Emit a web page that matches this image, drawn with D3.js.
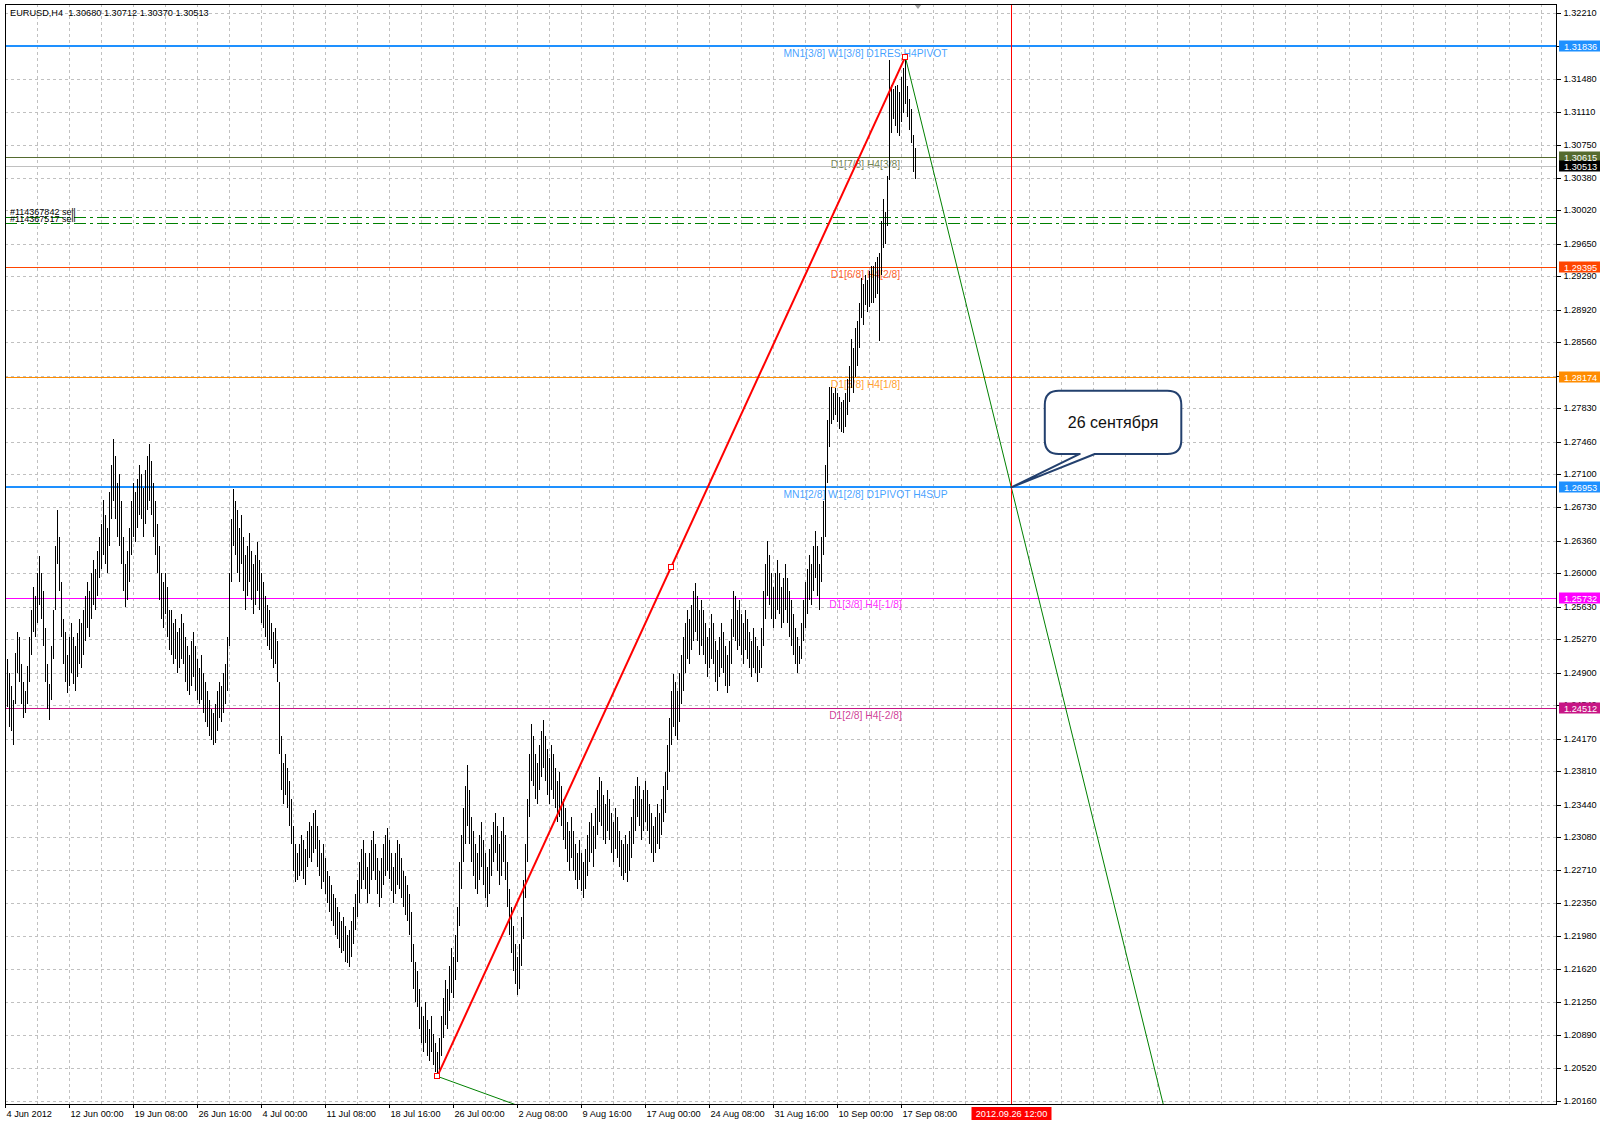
<!DOCTYPE html>
<html><head><meta charset="utf-8">
<script src="https://cdn.jsdelivr.net/npm/d3@7"></script>
<style>
body{margin:0;background:#fff;}
svg{display:block;}
text{font-family:"Liberation Sans",Arial,sans-serif;}
</style>
</head><body>
<svg id="c" width="1600" height="1124"></svg>
<script>
// ---------------- DATA ----------------
const headerText = "EURUSD,H4  1.30680 1.30712 1.30370 1.30513";

const barHigh = [
1.2520,1.2505,1.2490,1.2475,1.2460,1.2512,1.2535,1.2530,1.2500,1.2480,
1.2470,1.2498,1.2530,1.2560,1.2585,1.2575,1.2600,1.2619,1.2600,1.2580,
1.2540,1.2500,1.2478,1.2520,1.2560,1.2630,1.2670,1.2640,1.2590,1.2550,
1.2535,1.2510,1.2530,1.2545,1.2530,1.2520,1.2534,1.2550,1.2545,1.2560,
1.2575,1.2590,1.2580,1.2600,1.2615,1.2605,1.2625,1.2640,1.2655,1.2681,
1.2665,1.2650,1.2690,1.2720,1.2749,1.2730,1.2700,1.2710,1.2680,1.2640,
1.2610,1.2625,1.2650,1.2680,1.2700,1.2690,1.2705,1.2720,1.2710,1.2695,
1.2715,1.2730,1.2743,1.2725,1.2700,1.2680,1.2655,1.2630,1.2600,1.2590,
1.2600,1.2585,1.2560,1.2560,1.2545,1.2550,1.2535,1.2540,1.2555,1.2545,
1.2530,1.2520,1.2510,1.2525,1.2535,1.2520,1.2505,1.2495,1.2510,1.2490,
1.2480,1.2470,1.2460,1.2450,1.2445,1.2455,1.2470,1.2480,1.2475,1.2490,
1.2500,1.2530,1.2600,1.2660,1.2693,1.2680,1.2670,1.2650,1.2665,1.2640,
1.2620,1.2630,1.2645,1.2625,1.2610,1.2620,1.2635,1.2615,1.2600,1.2590,
1.2575,1.2565,1.2560,1.2545,1.2535,1.2540,1.2525,1.2480,1.2420,1.2390,
1.2400,1.2385,1.2370,1.2350,1.2320,1.2300,1.2290,1.2300,1.2310,1.2305,
1.2295,1.2315,1.2325,1.2320,1.2335,1.2338,1.2320,1.2305,1.2290,1.2300,
1.2285,1.2270,1.2265,1.2255,1.2245,1.2240,1.2230,1.2225,1.2215,1.2220,
1.2210,1.2200,1.2205,1.2215,1.2230,1.2245,1.2260,1.2280,1.2295,1.2305,
1.2290,1.2275,1.2290,1.2305,1.2315,1.2300,1.2285,1.2270,1.2285,1.2300,
1.2310,1.2318,1.2305,1.2290,1.2275,1.2290,1.2305,1.2300,1.2285,1.2270,
1.2265,1.2255,1.2245,1.2225,1.2190,1.2170,1.2160,1.2140,1.2120,1.2110,
1.2125,1.2105,1.2095,1.2110,1.2090,1.2080,1.2070,1.2085,1.2110,1.2130,
1.2150,1.2140,1.2165,1.2185,1.2175,1.2200,1.2230,1.2280,1.2310,1.2340,
1.2365,1.2388,1.2360,1.2330,1.2315,1.2300,1.2290,1.2310,1.2325,1.2305,
1.2290,1.2275,1.2295,1.2310,1.2325,1.2335,1.2320,1.2300,1.2315,1.2330,
1.2310,1.2280,1.2250,1.2230,1.2210,1.2190,1.2175,1.2190,1.2220,1.2260,
1.2300,1.2350,1.2400,1.2433,1.2420,1.2400,1.2390,1.2410,1.2425,1.2438,
1.2420,1.2405,1.2395,1.2410,1.2400,1.2385,1.2370,1.2380,1.2365,1.2350,
1.2340,1.2325,1.2315,1.2330,1.2315,1.2300,1.2290,1.2305,1.2290,1.2280,
1.2295,1.2310,1.2325,1.2335,1.2320,1.2340,1.2360,1.2375,1.2370,1.2355,
1.2345,1.2360,1.2350,1.2335,1.2325,1.2340,1.2330,1.2315,1.2305,1.2300,
1.2310,1.2300,1.2315,1.2330,1.2350,1.2365,1.2375,1.2365,1.2350,1.2360,
1.2370,1.2360,1.2345,1.2335,1.2320,1.2330,1.2345,1.2335,1.2350,1.2365,
1.2380,1.2410,1.2440,1.2470,1.2489,1.2480,1.2470,1.2490,1.2510,1.2530,
1.2545,1.2560,1.2550,1.2565,1.2580,1.2589,1.2575,1.2560,1.2570,1.2560,
1.2545,1.2530,1.2540,1.2555,1.2545,1.2525,1.2515,1.2530,1.2545,1.2535,
1.2520,1.2510,1.2525,1.2550,1.2580,1.2575,1.2560,1.2570,1.2555,1.2545,
1.2560,1.2550,1.2535,1.2525,1.2540,1.2530,1.2520,1.2515,1.2540,1.2580,
1.2610,1.2636,1.2620,1.2600,1.2585,1.2600,1.2615,1.2600,1.2585,1.2595,
1.2610,1.2595,1.2580,1.2570,1.2555,1.2540,1.2530,1.2520,1.2545,1.2570,
1.2590,1.2605,1.2620,1.2610,1.2630,1.2647,1.2630,1.2610,1.2640,1.2680,
1.2720,1.2770,1.2806,1.2806,1.2800,1.2805,1.2800,1.2795,1.2790,1.2792,
1.2800,1.2815,1.2830,1.2860,1.2850,1.2872,1.2880,1.2900,1.2927,1.2920,
1.2930,1.2925,1.2935,1.2940,1.2940,1.2945,1.2950,1.2955,1.2990,1.3015,
1.3000,1.3040,1.3169,1.3141,1.3136,1.3140,1.3141,1.3133,1.3150,1.3160,
1.3172,1.3140,1.3125,1.3114,1.3085,1.3071
];
const barLow = [
1.2470,1.2452,1.2430,1.2425,1.2410,1.2455,1.2490,1.2480,1.2455,1.2440,
1.2445,1.2455,1.2480,1.2510,1.2535,1.2530,1.2545,1.2565,1.2550,1.2520,
1.2480,1.2450,1.2438,1.2460,1.2505,1.2560,1.2610,1.2580,1.2530,1.2500,
1.2480,1.2467,1.2475,1.2490,1.2478,1.2470,1.2485,1.2500,1.2495,1.2510,
1.2525,1.2540,1.2530,1.2550,1.2565,1.2560,1.2575,1.2595,1.2605,1.2620,
1.2610,1.2600,1.2630,1.2660,1.2680,1.2660,1.2640,1.2630,1.2610,1.2580,
1.2563,1.2570,1.2590,1.2620,1.2640,1.2635,1.2650,1.2665,1.2660,1.2640,
1.2655,1.2670,1.2680,1.2665,1.2640,1.2620,1.2600,1.2570,1.2550,1.2540,
1.2555,1.2530,1.2515,1.2510,1.2500,1.2505,1.2490,1.2495,1.2505,1.2500,
1.2480,1.2470,1.2465,1.2475,1.2485,1.2470,1.2460,1.2455,1.2460,1.2445,
1.2435,1.2430,1.2420,1.2415,1.2410,1.2412,1.2425,1.2440,1.2435,1.2445,
1.2455,1.2470,1.2520,1.2590,1.2630,1.2620,1.2600,1.2590,1.2610,1.2580,
1.2560,1.2575,1.2590,1.2570,1.2555,1.2565,1.2580,1.2560,1.2545,1.2540,
1.2530,1.2520,1.2515,1.2505,1.2495,1.2500,1.2480,1.2400,1.2360,1.2345,
1.2355,1.2340,1.2320,1.2300,1.2270,1.2258,1.2260,1.2265,1.2270,1.2262,
1.2255,1.2275,1.2285,1.2280,1.2290,1.2295,1.2275,1.2265,1.2250,1.2258,
1.2245,1.2235,1.2225,1.2215,1.2210,1.2200,1.2195,1.2185,1.2180,1.2182,
1.2170,1.2168,1.2164,1.2175,1.2190,1.2205,1.2220,1.2235,1.2250,1.2260,
1.2250,1.2235,1.2245,1.2260,1.2270,1.2260,1.2245,1.2230,1.2240,1.2255,
1.2265,1.2270,1.2262,1.2248,1.2235,1.2245,1.2255,1.2250,1.2240,1.2230,
1.2222,1.2215,1.2200,1.2170,1.2140,1.2125,1.2120,1.2095,1.2080,1.2070,
1.2080,1.2065,1.2060,1.2070,1.2055,1.2048,1.2043,1.2050,1.2065,1.2085,
1.2100,1.2095,1.2115,1.2135,1.2130,1.2150,1.2170,1.2210,1.2250,1.2280,
1.2300,1.2320,1.2300,1.2280,1.2265,1.2250,1.2245,1.2260,1.2275,1.2255,
1.2240,1.2230,1.2245,1.2265,1.2280,1.2290,1.2270,1.2255,1.2265,1.2280,
1.2260,1.2230,1.2200,1.2180,1.2160,1.2145,1.2133,1.2140,1.2165,1.2195,
1.2240,1.2280,1.2330,1.2370,1.2365,1.2350,1.2345,1.2360,1.2375,1.2385,
1.2370,1.2355,1.2345,1.2360,1.2350,1.2340,1.2325,1.2330,1.2320,1.2305,
1.2295,1.2280,1.2270,1.2285,1.2270,1.2260,1.2250,1.2260,1.2248,1.2241,
1.2250,1.2265,1.2280,1.2290,1.2275,1.2295,1.2310,1.2325,1.2320,1.2305,
1.2300,1.2315,1.2305,1.2290,1.2280,1.2295,1.2285,1.2275,1.2265,1.2260,
1.2268,1.2258,1.2270,1.2285,1.2300,1.2315,1.2330,1.2320,1.2305,1.2315,
1.2325,1.2315,1.2300,1.2290,1.2280,1.2290,1.2300,1.2295,1.2310,1.2325,
1.2335,1.2360,1.2380,1.2410,1.2430,1.2420,1.2415,1.2435,1.2455,1.2470,
1.2490,1.2505,1.2500,1.2515,1.2525,1.2535,1.2525,1.2510,1.2520,1.2510,
1.2500,1.2485,1.2495,1.2505,1.2500,1.2480,1.2470,1.2485,1.2495,1.2490,
1.2475,1.2467,1.2475,1.2500,1.2530,1.2525,1.2515,1.2520,1.2510,1.2500,
1.2515,1.2505,1.2495,1.2485,1.2495,1.2490,1.2480,1.2490,1.2495,1.2520,
1.2550,1.2575,1.2565,1.2550,1.2540,1.2550,1.2560,1.2555,1.2540,1.2545,
1.2560,1.2545,1.2530,1.2520,1.2510,1.2500,1.2490,1.2500,1.2505,1.2525,
1.2540,1.2555,1.2570,1.2565,1.2580,1.2595,1.2575,1.2560,1.2590,1.2620,
1.2640,1.2700,1.2740,1.2765,1.2770,1.2775,1.2768,1.2760,1.2757,1.2755,
1.2762,1.2775,1.2790,1.2805,1.2800,1.2817,1.2830,1.2850,1.2883,1.2875,
1.2897,1.2890,1.2895,1.2900,1.2900,1.2905,1.2910,1.2857,1.2930,1.2960,
1.2965,1.2985,1.3036,1.3088,1.3103,1.3095,1.3088,1.3084,1.3100,1.3110,
1.3120,1.3105,1.3091,1.3077,1.3045,1.3037
];

const dateTickBars = [0,32,64,96,128,160,192,224,256,288,320,352,384,416,448];
const dateTickLabels = ["4 Jun 2012","12 Jun 00:00","19 Jun 08:00","26 Jun 16:00","4 Jul 00:00",
  "11 Jul 08:00","18 Jul 16:00","26 Jul 00:00","2 Aug 08:00","9 Aug 16:00","17 Aug 00:00",
  "24 Aug 08:00","31 Aug 16:00","10 Sep 00:00","17 Sep 08:00"];

const priceTicks = [1.32210,1.31840,1.31480,1.31110,1.30750,1.30380,1.30020,1.29650,1.29290,1.28920,
  1.28560,1.28190,1.27830,1.27460,1.27100,1.26730,1.26360,1.26000,1.25630,1.25270,1.24900,1.24540,
  1.24170,1.23810,1.23440,1.23080,1.22710,1.22350,1.21980,1.21620,1.21250,1.20890,1.20520,1.20160];

const levelPrices = [1.31836,1.30615,1.29395,1.28174,1.26953,1.25732,1.24512];
const levelNames = ["MN1[3/8] W1[3/8] D1RES H4PIVOT","D1[7/8] H4[3/8]","D1[6/8] H4[2/8]",
  "D1[5/8] H4[1/8]","MN1[2/8] W1[2/8] D1PIVOT H4SUP","D1[3/8] H4[-1/8]","D1[2/8] H4[-2/8]"];
const bidPrice = 1.30513;
const orderPrices = [1.29951,1.29878];
const orderNames = ["#114367842 sell","#114367517 sell"];

const zigzagLeg = [[216,1.2043],[450,1.3172]];          // bar index, price
const zigzagMid = [[333,1.26075]];
const projectionDown = [[450,1.3172],[503,1.26953]];    // ray
const projectionLow = [[216,1.2043],[254,1.20125]];     // ray
const eventBar = 503;
const eventLabel = "2012.09.26 12:00";
const calloutPoint = [503,1.26953];
const calloutText = "26 сентября";

// ---------------- STYLES ----------------
const levelColors = ["#1e90ff","#556b2f","#ff4500","#ff8c00","#1e90ff","#ff00ff","#c71585"];
const levelWidths = [2,1,1,1,2,1,1];
const plotL=5, plotT=4, plotR=1557, plotB=1104;
const F = "Liberation Sans, Arial, sans-serif";

// ---------------- DRAW ----------------
const svg = d3.select("#c");
const xS = d3.scaleLinear().domain([0,1]).range([5.3,7.3]);
const yS = d3.scaleLinear().domain([1.20160,1.32210]).range([1100.7,12.7]);
const px = v => Math.round(v)+0.5;

svg.append("defs").append("clipPath").attr("id","clip")
  .append("rect").attr("x",plotL).attr("y",plotT).attr("width",plotR-plotL).attr("height",plotB-plotT);
svg.append("rect").attr("width",1600).attr("height",1124).attr("fill","#fff");

const plot = svg.append("g").attr("clip-path","url(#clip)");

// grid
const gridBars = d3.range(16, 780, 16);
plot.selectAll("line.vg").data(gridBars).join("line").attr("class","vg")
  .attr("x1",d=>px(xS(d))).attr("x2",d=>px(xS(d))).attr("y1",plotT).attr("y2",plotB)
  .attr("stroke","#c0c0c0").attr("stroke-dasharray","3,3").attr("shape-rendering","crispEdges");
plot.selectAll("line.hg").data(priceTicks).join("line").attr("class","hg")
  .attr("x1",plotL).attr("x2",plotR).attr("y1",d=>px(yS(d))).attr("y2",d=>px(yS(d)))
  .attr("stroke","#c0c0c0").attr("stroke-dasharray","3,3").attr("shape-rendering","crispEdges");

// level lines
plot.selectAll("line.lvl").data(levelPrices).join("line").attr("class","lvl")
  .attr("x1",plotL).attr("x2",plotR)
  .attr("y1",(d,i)=>levelWidths[i]===2?Math.round(yS(d)):px(yS(d)))
  .attr("y2",(d,i)=>levelWidths[i]===2?Math.round(yS(d)):px(yS(d)))
  .attr("stroke",(d,i)=>levelColors[i]).attr("stroke-width",(d,i)=>levelWidths[i])
  .attr("shape-rendering","crispEdges");
plot.selectAll("text.lvlt").data(levelPrices).join("text").attr("class","lvlt")
  .attr("x",865.5).attr("y",d=>yS(d)+10.8).attr("text-anchor","middle")
  .attr("font-size","10.3px").attr("fill",(d,i)=>levelColors[i]).attr("fill-opacity",0.85)
  .text((d,i)=>levelNames[i]);

// bid line
plot.append("line").attr("x1",plotL).attr("x2",plotR).attr("y1",px(yS(bidPrice))).attr("y2",px(yS(bidPrice)))
  .attr("stroke","#c0c0c0").attr("shape-rendering","crispEdges");

// order lines
plot.selectAll("line.ord").data(orderPrices).join("line").attr("class","ord")
  .attr("x1",plotL).attr("x2",plotR).attr("y1",d=>px(yS(d))).attr("y2",d=>px(yS(d)))
  .attr("stroke","#008000").attr("stroke-dasharray","12,4,3,4").attr("shape-rendering","crispEdges");
plot.selectAll("text.ordt").data(orderPrices).join("text").attr("class","ordt")
  .attr("x",10).attr("y",(d,i)=>yS(d)-(i===0?2:1)).attr("font-size","9px").attr("fill","#000")
  .text((d,i)=>orderNames[i]);

// bars
plot.selectAll("line.bar").data(barHigh).join("line").attr("class","bar")
  .attr("x1",(d,i)=>px(xS(i))).attr("x2",(d,i)=>px(xS(i)))
  .attr("y1",d=>Math.round(yS(d))).attr("y2",(d,i)=>Math.max(Math.round(yS(barLow[i])),Math.round(yS(d))+1))
  .attr("stroke","#000").attr("shape-rendering","crispEdges");

// rays (green)
function ray(pts){
  const [a,b]=pts; const x1=xS(a[0]), y1=yS(a[1]), x2=xS(b[0]), y2=yS(b[1]);
  const k=(y2-y1)/(x2-x1); const xe=x1+ (plotB+20-y1)/k;
  return [[x1,y1],[xe,plotB+20]];
}
[projectionDown, projectionLow].forEach(p=>{
  plot.append("path").attr("d",d3.line()(ray(p))).attr("stroke","#008000").attr("stroke-width",1).attr("fill","none");
});

// zigzag (red)
plot.append("path").attr("d",d3.line()(zigzagLeg.map(d=>[xS(d[0]),yS(d[1])])))
  .attr("stroke","#ff0000").attr("stroke-width",2).attr("fill","none");
plot.selectAll("rect.zm").data(zigzagLeg.concat(zigzagMid)).join("rect").attr("class","zm")
  .attr("x",d=>Math.round(xS(d[0]))-2.5).attr("y",d=>Math.round(yS(d[1]))-2.5).attr("width",5).attr("height",5)
  .attr("fill","#fff").attr("stroke","#ff0000").attr("stroke-width",1);

// event vertical line
plot.append("line").attr("x1",px(xS(eventBar))).attr("x2",px(xS(eventBar))).attr("y1",plotT).attr("y2",plotB)
  .attr("stroke","#ff0000").attr("shape-rendering","crispEdges");

// callout
(function(){
  const tx=xS(calloutPoint[0]), ty=yS(calloutPoint[1]);
  const L=tx+33.5, R=tx+170, T=ty-96.7, B=ty-33.4, r=14, b1=tx+68.5, b2=tx+83.5;
  const d=`M${L+r},${T} H${R-r} Q${R},${T} ${R},${T+r} V${B-r} Q${R},${B} ${R-r},${B} H${b2} L${tx},${ty} L${b1},${B} H${L+r} Q${L},${B} ${L},${B-r} V${T+r} Q${L},${T} ${L+r},${T} Z`;
  plot.append("path").attr("d",d).attr("fill","#fff").attr("stroke","#23406e").attr("stroke-width",2).attr("stroke-linejoin","round");
  plot.append("text").attr("x",(L+R)/2).attr("y",ty-59).attr("text-anchor","middle")
    .attr("font-size","16px").attr("fill","#111").text(calloutText);
})();

// chart shift marker
svg.append("path").attr("d","M914,4 L922,4 L918,9 Z").attr("fill","#a0a0a0");

// frame
svg.append("rect").attr("x",plotL+0.5).attr("y",plotT+0.5).attr("width",plotR-plotL-1).attr("height",plotB-plotT)
  .attr("fill","none").attr("stroke","#000").attr("shape-rendering","crispEdges");

// header
svg.append("text").attr("x",10).attr("y",15.5).attr("font-size","9.2px").attr("fill","#000").attr("xml:space","preserve")
  .style("white-space","pre").text(headerText);

// y axis
const yAxis = d3.axisRight(yS).tickValues(priceTicks).tickFormat(d3.format(".5f")).tickSize(4).tickPadding(3);
const ga = svg.append("g").attr("transform",`translate(${plotR-0.5},0)`).call(yAxis);
ga.select(".domain").remove();
ga.selectAll("line").attr("stroke","#000").attr("shape-rendering","crispEdges");
ga.selectAll("text").attr("font-size","9.2px").attr("font-family",F).attr("fill","#000");
ga.selectAll(".tick").attr("transform",d=>`translate(0,${px(yS(d))})`);

// price boxes
const boxes = levelPrices.map((p,i)=>({p, c:levelColors[i]})).concat([{p:bidPrice,c:"#000"}]);
const gb = svg.append("g");
gb.selectAll("rect").data(boxes).join("rect")
  .attr("x",1559).attr("y",d=>Math.round(yS(d.p))-5.5).attr("width",41).attr("height",11).attr("fill",d=>d.c);
gb.selectAll("text").data(boxes).join("text")
  .attr("x",1564).attr("y",d=>Math.round(yS(d.p))+3.5).attr("font-size","9.2px").attr("fill","#fff")
  .text(d=>d3.format(".5f")(d.p));

// x axis
const xAxis = d3.axisBottom(xS).tickValues(dateTickBars).tickFormat((d,i)=>dateTickLabels[i]).tickSize(4);
const gx = svg.append("g").attr("transform",`translate(0,${plotB-0.5})`).call(xAxis);
gx.select(".domain").remove();
gx.selectAll(".tick").attr("transform",d=>`translate(${px(xS(d))},0)`);
gx.selectAll("line").attr("stroke","#000").attr("shape-rendering","crispEdges");
gx.selectAll("text").attr("text-anchor","start").attr("x",1).attr("y",13.5).attr("dy",null)
  .attr("font-size","9.2px").attr("font-family",F).attr("fill","#000");

// event date box
const ex = px(xS(eventBar));
svg.append("rect").attr("x",ex-40).attr("y",1107).attr("width",80).attr("height",13).attr("fill","#ff0000");
svg.append("text").attr("x",ex).attr("y",1117).attr("text-anchor","middle").attr("font-size","9.2px")
  .attr("fill","#fff").text(eventLabel);
</script>
</body></html>
